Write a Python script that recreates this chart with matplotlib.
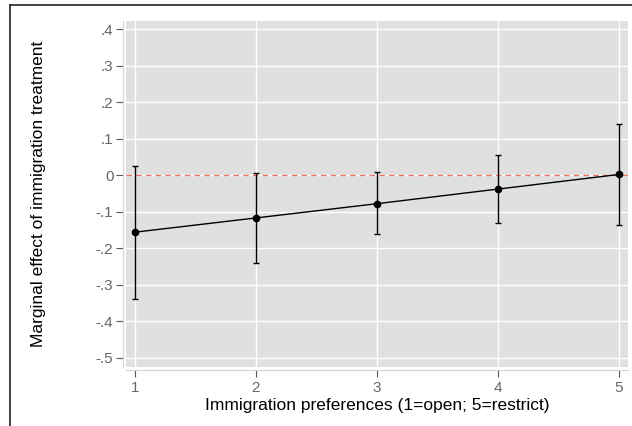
import matplotlib.pyplot as plt
from matplotlib.lines import Line2D

# Data
prefs = [1, 2, 3, 4, 5]
effect = [-0.156, -0.117, -0.078, -0.038, 0.002]
ci_low = [-0.338, -0.241, -0.162, -0.131, -0.137]
ci_high = [0.025, 0.007, 0.009, 0.055, 0.140]
yticks = [0.4, 0.3, 0.2, 0.1, 0.0, -0.1, -0.2, -0.3, -0.4, -0.5]
ytick_labels = ['.4', '.3', '.2', '.1', '0', '-.1', '-.2', '-.3', '-.4', '-.5']

plt.rcParams['font.family'] = ['Liberation Sans', 'DejaVu Sans']

fig = plt.figure(figsize=(6.32, 4.26), dpi=100)
ax = fig.add_axes([126 / 632, 59 / 426, 502 / 632, 346 / 426])
ax.set_facecolor('#e0e0e0')

# image frame (top and left edges)
fig.add_artist(Line2D([10 / 632, 1.0], [1 - 5 / 426, 1 - 5 / 426],
                      transform=fig.transFigure, color='#222222', lw=1.2))
fig.add_artist(Line2D([10 / 632, 10 / 632], [0.0, 1 - 5 / 426],
                      transform=fig.transFigure, color='#222222', lw=1.2))

ax.set_xlim(0.926, 5.074)
ax.set_ylim(-0.525, 0.422)
ax.set_yticks(yticks)
ax.set_yticklabels(ytick_labels)
ax.set_xticks(prefs)
ax.grid(True, color='white', lw=1.0)
ax.set_axisbelow(True)

for s in ['top', 'right']:
    ax.spines[s].set_visible(False)
for s in ['left', 'bottom']:
    ax.spines[s].set_color('#d4d4d4')
    ax.spines[s].set_linewidth(0.8)
    ax.spines[s].set_position(('outward', 2))

ax.tick_params(axis='both', colors='#555555', labelcolor='#666666',
               length=5, width=0.8, labelsize=11)
ax.tick_params(axis='y', pad=2)
ax.tick_params(axis='x', pad=3)

ax.axhline(0, color='#ec7462', lw=1.0, ls=(0, (4, 3)), zorder=2)

yerr = [[e - lo for e, lo in zip(effect, ci_low)],
        [hi - e for e, hi in zip(effect, ci_high)]]
ax.errorbar(prefs, effect, yerr=yerr, fmt='o-', color='black', ms=4.5,
            lw=1.0, elinewidth=1.0, capsize=2, capthick=1.0, zorder=3)

ax.set_xlabel('Immigration preferences (1=open; 5=restrict)', fontsize=12.5,
              labelpad=2)
ax.set_ylabel('Marginal effect of immigration treatment', fontsize=12.5,
              labelpad=36)

fig.savefig('out.png', dpi=100)
